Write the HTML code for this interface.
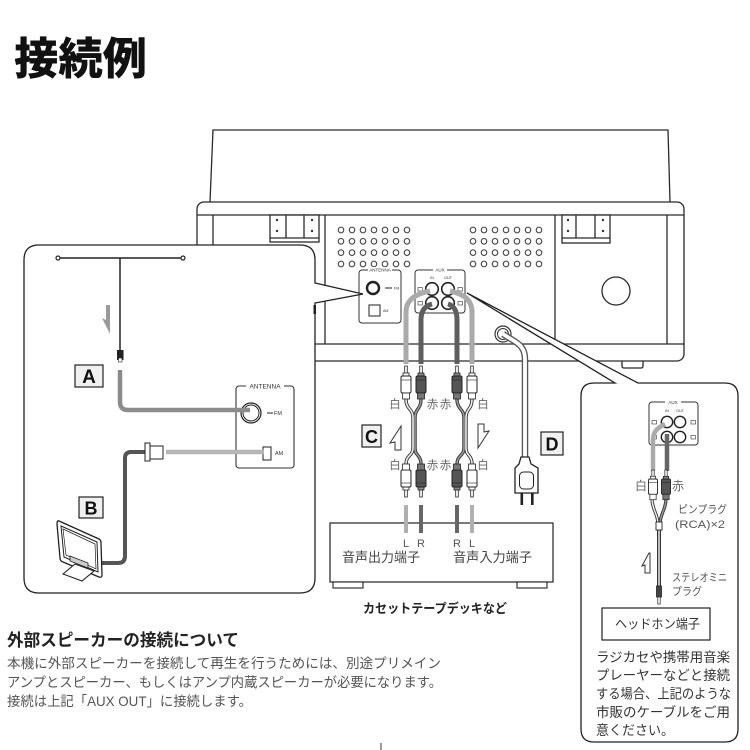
<!DOCTYPE html>
<html><head><meta charset="utf-8">
<style>
html,body{margin:0;padding:0;background:#fff;}
svg{display:block;}
text{font-family:"Liberation Sans","Noto Sans CJK JP",sans-serif;}
</style></head><body>
<svg width="750" height="750" viewBox="0 0 750 750" xmlns="http://www.w3.org/2000/svg">
<defs>
<pattern id="holes" patternUnits="userSpaceOnUse" x="335.5" y="224.33" width="11" height="11.33">
<circle cx="5.5" cy="5.67" r="2.8" fill="none" stroke="#333" stroke-width="1"/>
</pattern>
<g id="plugW">
<rect x="-1.3" y="0" width="2.6" height="8" fill="#fff" stroke="#222" stroke-width="0.8"/>
<rect x="-3" y="7" width="6" height="3.5" fill="#fff" stroke="#222" stroke-width="0.8"/>
<rect x="-5" y="10" width="10" height="17" rx="1.5" fill="#fff" stroke="#222" stroke-width="1"/>
<line x1="-5" y1="14" x2="5" y2="14" stroke="#222" stroke-width="0.6"/>
<rect x="-3.5" y="27" width="7" height="6" fill="#fff" stroke="#222" stroke-width="0.8"/>
</g>
<g id="plugR">
<rect x="-1.3" y="0" width="2.6" height="8" fill="#fff" stroke="#222" stroke-width="0.8"/>
<rect x="-3" y="7" width="6" height="3.5" fill="#888" stroke="#222" stroke-width="0.8"/>
<rect x="-5" y="10" width="10" height="17" rx="1.5" fill="#555" stroke="#222" stroke-width="1"/>
<line x1="-5" y1="14" x2="5" y2="14" stroke="#222" stroke-width="0.6"/>
<rect x="-3.5" y="27" width="7" height="6" fill="#777" stroke="#222" stroke-width="0.8"/>
</g>
</defs>
<rect width="750" height="750" fill="#fff"/>

<!-- Title -->
<text x="14" y="74" font-size="44" font-weight="900" fill="#111" textLength="133" lengthAdjust="spacingAndGlyphs">接続例</text>

<!-- Device -->
<g fill="none" stroke="#2a2a2a" stroke-width="1.3">
<path d="M210,202 L213,130 L668,130 L670,202"/>
<rect x="197" y="202" width="487" height="159" rx="7" fill="#fff"/>
<line x1="197" y1="215" x2="684" y2="215"/>
<line x1="197" y1="344" x2="684" y2="344"/>
<line x1="213" y1="215" x2="213" y2="344"/>
<line x1="325" y1="215" x2="325" y2="344"/>
<line x1="555" y1="215" x2="555" y2="344"/>
<line x1="667" y1="215" x2="667" y2="344"/>
<rect x="270" y="215" width="49" height="27" fill="#fff"/>
<line x1="270" y1="238" x2="319" y2="238"/>
<line x1="286" y1="215" x2="286" y2="238"/>
<line x1="304" y1="215" x2="304" y2="238"/>
<rect x="562" y="215" width="48" height="28" fill="#fff"/>
<line x1="562" y1="238" x2="610" y2="238"/>
<line x1="576" y1="215" x2="576" y2="238"/>
<line x1="595" y1="215" x2="595" y2="238"/>
<path d="M622,361 V366 Q622,368 624,368 H641 Q643,368 643,366 V361"/>
<circle cx="616" cy="291" r="14"/>
</g>
<g fill="#333">
<circle cx="277" cy="220" r="1.2"/><circle cx="277" cy="231" r="1.2"/>
<circle cx="312" cy="220" r="1.2"/><circle cx="312" cy="231" r="1.2"/>
<circle cx="568" cy="220" r="1.2"/><circle cx="568" cy="231" r="1.2"/>
<circle cx="603" cy="220" r="1.2"/><circle cx="603" cy="231" r="1.2"/>
</g>
<rect x="335.5" y="224.33" width="77" height="45.33" fill="url(#holes)"/>
<rect x="467.5" y="224.33" width="77" height="45.33" fill="url(#holes)"/>

<!-- main ANTENNA box -->
<rect x="359" y="270" width="42" height="53" rx="3" fill="#fff" stroke="#333" stroke-width="1"/>
<rect x="368" y="267" width="24" height="6" fill="#fff"/>
<text x="380" y="271.6" font-size="4.5" text-anchor="middle" fill="#333">ANTENNA</text>
<circle cx="373" cy="288" r="6" fill="#fff" stroke="#222" stroke-width="2.4"/>
<line x1="385" y1="288" x2="392" y2="288" stroke="#222" stroke-width="1"/>
<text x="394" y="289.5" font-size="3.6" fill="#333">FM</text>
<rect x="369" y="305" width="11" height="11" fill="#fff" stroke="#222" stroke-width="1"/>
<text x="383" y="312" font-size="3.6" fill="#333">AM</text>

<!-- main AUX box -->
<rect x="415" y="270" width="50" height="43" rx="3" fill="#fff" stroke="#333" stroke-width="1"/>
<rect x="433" y="267" width="14" height="6" fill="#fff"/>
<text x="440" y="271.6" font-size="4.5" text-anchor="middle" fill="#333">AUX</text>
<text x="432" y="279" font-size="3.8" text-anchor="middle" fill="#333">IN</text>
<text x="448" y="279" font-size="3.8" text-anchor="middle" fill="#333">OUT</text>
<g fill="#fff" stroke="#333" stroke-width="0.6">
<rect x="418" y="287.5" width="4.5" height="3.5"/><rect x="418" y="301.5" width="4.5" height="3.5"/>
<rect x="458" y="287.5" width="4.5" height="3.5"/><rect x="458" y="301.5" width="4.5" height="3.5"/>
</g>
<g fill="#fff" stroke="#222" stroke-width="1.6">
<circle cx="432" cy="289" r="6.3"/><circle cx="448" cy="289" r="6.3"/>
<circle cx="432" cy="303" r="6.3"/><circle cx="448" cy="303" r="6.3"/>
</g>

<!-- grommet -->
<circle cx="503" cy="334" r="8" fill="#fff" stroke="#333" stroke-width="1.2"/>
<circle cx="503" cy="334" r="5.5" fill="#fff" stroke="#333" stroke-width="1"/>

<!-- Left callout panel -->
<path d="M39,245 H300 Q315,245 315,260 V283 L363,294 L315,303 V578 Q315,593 300,593 H39 Q24,593 24,578 V260 Q24,245 39,245 Z" fill="#fff" stroke="#222" stroke-width="1.3"/>
<rect x="313.5" y="305" width="2.5" height="9" fill="#222"/>

<!-- Right callout panel -->
<path d="M594,383 H615 L467,293 L638,383 H725 Q738,383 738,396 V729 Q738,742 725,742 H594 Q581,742 581,729 V396 Q581,383 594,383 Z" fill="#fff" stroke="#222" stroke-width="1.3"/>

<!-- Main AUX cables -->
<g fill="none" stroke-width="5">
<path d="M430,291 C415,294 406,300 406,312 V364" stroke="#aaa"/>
<path d="M432,304 C424,306 421,312 421,320 V364" stroke="#5e5e5e"/>
<path d="M448,304 C455,306 457,312 457,320 V364" stroke="#5e5e5e"/>
<path d="M450,291 C464,294 472,300 472,312 V364" stroke="#aaa"/>
</g>

<!-- Power cord -->
<path d="M503,334 C512,340 519,343 522,348 Q525,352 525,360 V458" fill="none" stroke="#555" stroke-width="6.5"/>
<path d="M503,334 C512,340 519,343 522,348 Q525,352 525,360 V458" fill="none" stroke="#fff" stroke-width="3.8"/>
<path d="M521,457 H529 L531,464 L538,468 V493 H515 V468 L519,464 Z" fill="#fff" stroke="#222" stroke-width="1.3"/>
<rect x="519.5" y="472" width="14" height="17" rx="4" fill="#fff" stroke="#222" stroke-width="1"/>
<rect x="520.5" y="493" width="2.6" height="12" fill="#222"/>
<rect x="531" y="493" width="2.6" height="12" fill="#222"/>

<!-- Y cables center -->
<g fill="none">
<g stroke="#333" stroke-width="3.4">
<path d="M406,399 C406,410 413,408 413,418 V448 C413,456 406,455 406,464"/>
<path d="M421,399 C421,410 415,408 415,418 V448 C415,456 421,455 421,464"/>
<path d="M457,399 C457,410 464,408 464,418 V448 C464,456 457,455 457,464"/>
<path d="M472,399 C472,410 466,408 466,418 V448 C466,456 472,455 472,464"/>
</g>
<path d="M406,399 C406,410 413,408 413,418 V448 C413,456 406,455 406,464" stroke="#eee" stroke-width="1.6"/>
<path d="M421,399 C421,410 415,408 415,418 V448 C415,456 421,455 421,464" stroke="#999" stroke-width="1.6"/>
<path d="M457,399 C457,410 464,408 464,418 V448 C464,456 457,455 457,464" stroke="#999" stroke-width="1.6"/>
<path d="M472,399 C472,410 466,408 466,418 V448 C466,456 472,455 472,464" stroke="#eee" stroke-width="1.6"/>
</g>

<!-- plugs center -->
<use href="#plugW" transform="translate(406,366)"/>
<use href="#plugR" transform="translate(421,366)"/>
<use href="#plugR" transform="translate(457,366)"/>
<use href="#plugW" transform="translate(472,366)"/>
<use href="#plugW" transform="translate(406,497) scale(1,-1)"/>
<use href="#plugR" transform="translate(421,497) scale(1,-1)"/>
<use href="#plugR" transform="translate(457,497) scale(1,-1)"/>
<use href="#plugW" transform="translate(472,497) scale(1,-1)"/>

<!-- labels 白 赤 -->
<g font-size="11.5" fill="#666" text-anchor="middle">
<text x="395" y="408">白</text><text x="432.5" y="408">赤</text><text x="445.5" y="408">赤</text><text x="483" y="408">白</text>
<text x="395" y="469">白</text><text x="432.5" y="469">赤</text><text x="445.5" y="469">赤</text><text x="483" y="469">白</text>
</g>

<!-- arrows -->
<polygon points="401,426 390,443 395,442 395,450 401,450" fill="#fff" stroke="#333" stroke-width="1"/>
<polygon points="478,448 489,431 484,432 484,424 478,424" fill="#fff" stroke="#333" stroke-width="1"/>

<!-- C & D boxes -->
<rect x="362" y="425" width="19" height="22" fill="#f0f0f0" stroke="#222" stroke-width="1.2"/>
<text x="371.5" y="443" font-size="18" font-weight="bold" text-anchor="middle" fill="#111">C</text>
<rect x="541" y="432" width="22" height="23" fill="#f0f0f0" stroke="#222" stroke-width="1.2"/>
<text x="552" y="450.5" font-size="18" font-weight="bold" text-anchor="middle" fill="#111">D</text>

<!-- deck -->
<rect x="330" y="523" width="223" height="59" fill="#fff" stroke="#222" stroke-width="1.2"/>
<rect x="333" y="582" width="30" height="6" fill="#fff" stroke="#222" stroke-width="1.1"/>
<rect x="517" y="582" width="30" height="6" fill="#fff" stroke="#222" stroke-width="1.1"/>
<rect x="404" y="505" width="4" height="28" fill="#b0b0b0"/>
<rect x="419" y="505" width="4" height="28" fill="#666"/>
<rect x="455" y="505" width="4" height="28" fill="#666"/>
<rect x="470" y="505" width="4" height="28" fill="#b0b0b0"/>
<g font-size="11" fill="#555" text-anchor="middle">
<text x="406" y="547">L</text><text x="421" y="547">R</text><text x="457" y="547">R</text><text x="472" y="547">L</text>
</g>
<text x="342" y="562" font-size="13.5" fill="#444" textLength="78" lengthAdjust="spacingAndGlyphs">音声出力端子</text>
<text x="453" y="562" font-size="13.5" fill="#444" textLength="79" lengthAdjust="spacingAndGlyphs">音声入力端子</text>
<text x="363" y="613" font-size="13" font-weight="bold" fill="#222" textLength="144" lengthAdjust="spacingAndGlyphs">カセットテープデッキなど</text>

<!-- Left panel contents -->
<line x1="58" y1="258" x2="183" y2="258" stroke="#222" stroke-width="1.5"/>
<circle cx="58" cy="258" r="2" fill="#fff" stroke="#222" stroke-width="1.2"/>
<circle cx="183" cy="258" r="2" fill="#fff" stroke="#222" stroke-width="1.2"/>
<line x1="120" y1="258" x2="120" y2="351" stroke="#222" stroke-width="1.5"/>
<rect x="117" y="350" width="6.5" height="10" fill="#222"/>
<rect x="118.5" y="358" width="3.5" height="4" fill="#fff" stroke="#222" stroke-width="0.6"/>
<polygon points="106,305 110,305 110,334 102,318 106,320" fill="#9a9a9a"/>
<rect x="75" y="365" width="28" height="22" fill="#f0f0f0" stroke="#222" stroke-width="1.2"/>
<text x="89" y="383" font-size="19" font-weight="bold" text-anchor="middle" fill="#111">A</text>
<rect x="236" y="386" width="58" height="82" rx="3" fill="none" stroke="#333" stroke-width="1.1"/>
<rect x="246" y="383" width="38" height="6" fill="#fff"/>
<text x="265" y="388.5" font-size="6.5" text-anchor="middle" fill="#333">ANTENNA</text>
<circle cx="251" cy="413" r="10" fill="none" stroke="#222" stroke-width="1.2"/>
<circle cx="251" cy="413" r="8" fill="none" stroke="#222" stroke-width="1"/>
<path d="M120,370 V402 Q120,410 128,410 H250" fill="none" stroke="#8c8c8c" stroke-width="4.5"/>
<line x1="267" y1="413" x2="273" y2="413" stroke="#222" stroke-width="1"/>
<text x="274" y="415" font-size="5.5" fill="#333">FM</text>
<rect x="263" y="447" width="8" height="13" fill="#fff" stroke="#222" stroke-width="1"/>
<text x="275" y="455" font-size="5.5" fill="#333">AM</text>
<line x1="166" y1="452" x2="264" y2="452" stroke="#b5b5b5" stroke-width="4.5"/>
<path d="M145,452 H131 Q125,452 125,458 V556 Q125,563 118,563 H101" fill="none" stroke="#555" stroke-width="4"/>
<rect x="150" y="446" width="13" height="13" fill="#fff" stroke="#222" stroke-width="1"/>
<rect x="145" y="443" width="5" height="18" fill="#fff" stroke="#222" stroke-width="1"/>
<rect x="79" y="497" width="24" height="21" fill="#f0f0f0" stroke="#222" stroke-width="1.2"/>
<text x="91" y="514.5" font-size="18" font-weight="bold" text-anchor="middle" fill="#111">B</text>
<!-- loop antenna -->
<path d="M59,521 L99,539 Q101,540 101,543 L102,575 Q102,578 99,577 L63,562 Q60,561 60,558 L57,524 Q57,520 59,521 Z" fill="#fff" stroke="#222" stroke-width="1.3"/>
<path d="M61,526 L97,542 L98,572 L64,557 Z" fill="#fff" stroke="#222" stroke-width="1"/>
<path d="M63,529 L95,544 L96,569 L66,555 Z" fill="none" stroke="#222" stroke-width="0.7"/>
<polygon points="70,556 88,563 88,568 70,561" fill="#ccc" stroke="#222" stroke-width="0.8"/>
<polygon points="63,574 75,564 94,571 82,581" fill="#fff" stroke="#222" stroke-width="1.1"/>

<!-- Right panel contents -->
<rect x="649" y="402" width="49" height="43" rx="3" fill="none" stroke="#333" stroke-width="1"/>
<rect x="665" y="399" width="16" height="6" fill="#fff"/>
<text x="673" y="404" font-size="4.5" text-anchor="middle" fill="#333">AUX</text>
<text x="667" y="412" font-size="3.8" text-anchor="middle" fill="#333">IN</text>
<text x="680" y="412" font-size="3.8" text-anchor="middle" fill="#333">OUT</text>
<g fill="#fff" stroke="#333" stroke-width="0.6">
<rect x="652" y="420.5" width="4.5" height="3.5"/><rect x="652" y="435.5" width="4.5" height="3.5"/>
<rect x="691" y="420.5" width="4.5" height="3.5"/><rect x="691" y="435.5" width="4.5" height="3.5"/>
</g>
<g fill="#fff" stroke="#222" stroke-width="1.4">
<circle cx="667" cy="422" r="5.7"/><circle cx="680" cy="422" r="5.7"/>
<circle cx="667" cy="437" r="5.7"/><circle cx="680" cy="437" r="5.7"/>
</g>
<path d="M665,424 C657,428 653,432 653,440 V471" fill="none" stroke="#aaa" stroke-width="4.5"/>
<path d="M667,434 V471" fill="none" stroke="#666" stroke-width="4.5"/>
<g fill="none">
<path d="M652,498 C652,510 658,514 658,524" stroke="#333" stroke-width="3.2"/>
<path d="M666,498 C666,510 660,514 660,524" stroke="#333" stroke-width="3.2"/>
<path d="M652,498 C652,510 658,514 658,524" stroke="#eee" stroke-width="1.4"/>
<path d="M666,498 C666,510 660,514 660,524" stroke="#999" stroke-width="1.4"/>
<path d="M659,529 V588" stroke="#333" stroke-width="4"/>
<path d="M659,529 V588" stroke="#ccc" stroke-width="1.8"/>
</g>
<rect x="656" y="522" width="6" height="8" fill="#fff" stroke="#222" stroke-width="0.9"/>
<use href="#plugW" transform="translate(653,470) scale(0.9)"/>
<use href="#plugR" transform="translate(666,470) scale(0.9)"/>
<rect x="656.5" y="586" width="5" height="11" fill="#444" stroke="#222" stroke-width="0.8"/>
<rect x="657.8" y="597" width="2.4" height="7" fill="#fff" stroke="#222" stroke-width="0.7"/>
<text x="641" y="490" font-size="12" fill="#666" text-anchor="middle">白</text>
<text x="678" y="490" font-size="12" fill="#666" text-anchor="middle">赤</text>
<text x="678" y="513" font-size="11" fill="#555" textLength="49" lengthAdjust="spacingAndGlyphs">ピンプラグ</text>
<text x="675" y="528" font-size="11" fill="#555" textLength="50" lengthAdjust="spacingAndGlyphs">(RCA)×2</text>
<polygon points="649,553 642,566 645,565 645,573 650,573 650,553" fill="#fff" stroke="#333" stroke-width="1"/>
<text x="672" y="581" font-size="11" fill="#555" textLength="55" lengthAdjust="spacingAndGlyphs">ステレオミニ</text>
<text x="672" y="595" font-size="11" fill="#555" textLength="30" lengthAdjust="spacingAndGlyphs">プラグ</text>
<rect x="602" y="608" width="108" height="32" fill="#fff" stroke="#222" stroke-width="1.2"/>
<text x="615" y="628.5" font-size="13" fill="#333" textLength="85" lengthAdjust="spacingAndGlyphs">ヘッドホン端子</text>
<g font-size="13.4" fill="#333">
<text x="596" y="662" textLength="134" lengthAdjust="spacingAndGlyphs">ラジカセや携帯用音楽</text>
<text x="596" y="680" textLength="134" lengthAdjust="spacingAndGlyphs">プレーヤーなどと接続</text>
<text x="596" y="698.5" textLength="135" lengthAdjust="spacingAndGlyphs">する場合、上記のような</text>
<text x="596" y="717" textLength="134" lengthAdjust="spacingAndGlyphs">市販のケーブルをご用</text>
<text x="596" y="735" textLength="78" lengthAdjust="spacingAndGlyphs">意ください。</text>
</g>

<!-- bottom-left text -->
<text x="7" y="646" font-size="17" font-weight="bold" fill="#222" textLength="232" lengthAdjust="spacingAndGlyphs">外部スピーカーの接続について</text>
<g font-size="13.8" fill="#555">
<text x="7" y="668" textLength="434" lengthAdjust="spacingAndGlyphs">本機に外部スピーカーを接続して再生を行うためには、別途プリメイン</text>
<text x="7" y="687" textLength="435" lengthAdjust="spacingAndGlyphs">アンプとスピーカー、もしくはアンプ内蔵スピーカーが必要になります。</text>
<text x="7" y="706" textLength="245" lengthAdjust="spacingAndGlyphs">接続は上記「AUX OUT」に接続します。</text>
</g>
<line x1="381" y1="743" x2="381" y2="750" stroke="#333" stroke-width="1"/>
</svg>
</body></html>
